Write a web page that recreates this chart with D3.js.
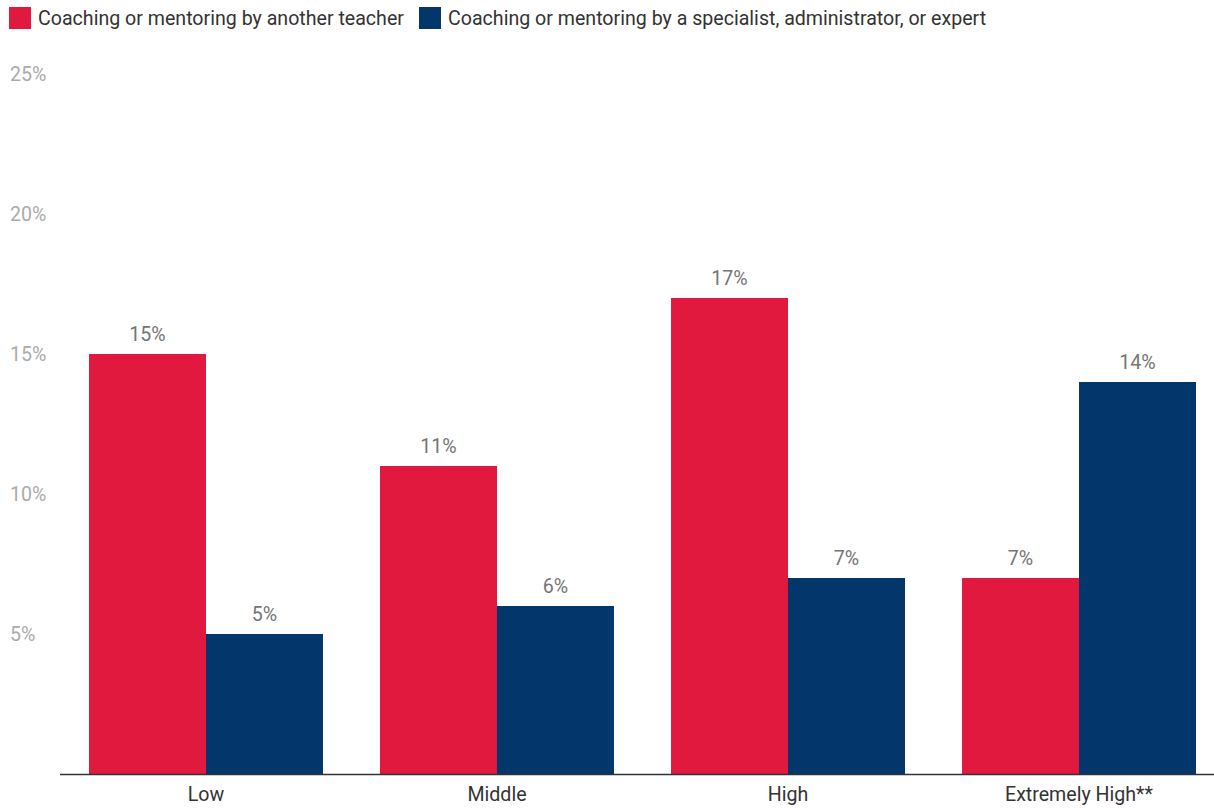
<!DOCTYPE html>
<html>
<head>
<meta charset="utf-8">
<script src="https://cdn.jsdelivr.net/npm/d3@7"></script>
<style>
  body { margin: 0; background: #fff; }
  text { font-family: Roboto, "Noto Sans", sans-serif; }
</style>
</head>
<body>
<div id="chart"></div>
<script>
// data
var categories = ["Low", "Middle", "High", "Extremely High**"];
var seriesNames = ["Coaching or mentoring by another teacher",
                   "Coaching or mentoring by a specialist, administrator, or expert"];
var teacherVals = [15, 11, 17, 7];
var specialistVals = [5, 6, 7, 14];
var yTicks = [5, 10, 15, 20, 25];
var colors = ["#e2193f", "#03366b"];

var width = 1214, height = 808;
var fs = "19.6px";
var svg = d3.select("#chart").append("svg")
  .attr("width", width)
  .attr("height", height);

var y = d3.scaleLinear().domain([0, 25]).range([774, 74]);
var x0 = d3.scaleBand().domain(categories).range([89, 1196]).paddingInner(0.196);
var x1 = d3.scaleBand().domain([0, 1]).range([0, x0.bandwidth()]);

// y tick labels (no gridlines)
svg.selectAll(".ytick")
  .data(yTicks)
  .enter()
  .append("text")
  .attr("x", 10)
  .attr("y", function(d) { return y(d); })
  .attr("dy", "0.35em")
  .attr("font-size", fs)
  .attr("fill", "#ababab")
  .text(function(d) { return d + "%"; });

var rows = categories.map(function(c, i) {
  return {cat: c, vals: [teacherVals[i], specialistVals[i]]};
});

var groups = svg.selectAll(".grp")
  .data(rows)
  .enter()
  .append("g")
  .attr("transform", function(d) { return "translate(" + x0(d.cat) + ",0)"; });

groups.selectAll("rect")
  .data(function(d) { return d.vals; })
  .enter()
  .append("rect")
  .attr("x", function(d, i) { return x1(i); })
  .attr("y", function(d) { return y(d); })
  .attr("width", x1.bandwidth())
  .attr("height", function(d) { return y(0) - y(d); })
  .attr("fill", function(d, i) { return colors[i]; });

groups.selectAll(".val")
  .data(function(d) { return d.vals; })
  .enter()
  .append("text")
  .attr("x", function(d, i) { return x1(i) + x1.bandwidth() / 2; })
  .attr("y", function(d) { return y(d) - 13; })
  .attr("text-anchor", "middle")
  .attr("font-size", fs)
  .attr("fill", "#757575")
  .text(function(d) { return d + "%"; });

// x axis
svg.append("line")
  .attr("x1", 60).attr("x2", 1214)
  .attr("y1", y(0) + 0.5).attr("y2", y(0) + 0.5)
  .style("stroke", "#333")
  .style("stroke-width", 1.3);

svg.selectAll(".xlab")
  .data(categories)
  .enter()
  .append("text")
  .attr("x", function(d) { return x0(d) + x0.bandwidth() / 2; })
  .attr("y", 801)
  .attr("text-anchor", "middle")
  .attr("font-size", fs)
  .attr("fill", "#333")
  .text(function(d) { return d; });

// legend
var legendX = [9, 419];
var leg = svg.selectAll(".leg")
  .data(seriesNames)
  .enter()
  .append("g")
  .attr("transform", function(d, i) { return "translate(" + legendX[i] + ",7)"; });

leg.append("rect")
  .attr("width", 22).attr("height", 22)
  .attr("fill", function(d, i) { return colors[i]; });

leg.append("text")
  .attr("x", 29)
  .attr("y", 11)
  .attr("dy", "0.35em")
  .attr("font-size", fs)
  .attr("fill", "#333")
  .text(function(d) { return d; });
</script>
</body>
</html>
